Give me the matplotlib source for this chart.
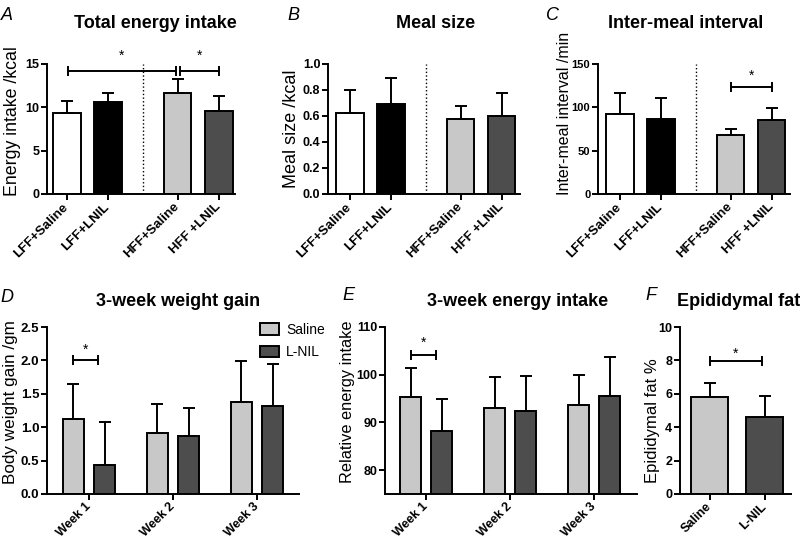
import matplotlib
matplotlib.use("Agg")
import matplotlib.pyplot as plt
import numpy as np
from matplotlib.patches import Patch

plt.rcParams['font.family'] = ['Liberation Sans', 'DejaVu Sans']

# ---------------- data ----------------
groups_top = ["LFF+Saline", "LFF+LNIL", "HFF+Saline", "HFF +LNIL"]
energy_mean = [9.4, 10.6, 11.6, 9.6]
energy_err = [1.3, 1.0, 1.65, 1.65]
meal_mean = [0.62, 0.69, 0.58, 0.60]
meal_err = [0.18, 0.20, 0.10, 0.18]
imi_mean = [92, 87, 68, 85]
imi_err = [24, 24, 7, 14]

weeks = ["Week 1", "Week 2", "Week 3"]
wg_saline = [1.13, 0.92, 1.37]
wg_saline_err = [0.51, 0.42, 0.62]
wg_lnil = [0.43, 0.87, 1.32]
wg_lnil_err = [0.65, 0.42, 0.62]
ei_saline = [95.4, 93.0, 93.6]
ei_saline_err = [6.0, 6.5, 6.3]
ei_lnil = [88.2, 92.4, 95.5]
ei_lnil_err = [6.7, 7.4, 8.2]
fat_labels = ["Saline", "L-NIL"]
fat_mean = [5.82, 4.64]
fat_err = [0.80, 1.22]

W, H = 800, 538
fig = plt.figure(figsize=(8, 5.38), dpi=100)

def add_ax(l, r, t, b):
    return fig.add_axes([l / W, 1 - b / H, (r - l) / W, (b - t) / H])

top_colors = ["white", "black", "#c8c8c8", "#4d4d4d"]
LW = 1.4

def style(ax, ytick_size):
    for s in ["top", "right"]:
        ax.spines[s].set_visible(False)
    for s in ["left", "bottom"]:
        ax.spines[s].set_linewidth(LW)
    ax.tick_params(axis="both", width=LW, length=4, direction="out")
    ax.tick_params(axis="y", pad=1.5)
    for lab in ax.get_yticklabels():
        lab.set_fontweight("bold")
        lab.set_fontsize(ytick_size)

def bars(ax, x, vals, errs, colors, width):
    ax.bar(x, vals, width=width, color=colors, edgecolor="black", linewidth=LW, zorder=2)
    ax.errorbar(x, vals, yerr=[np.zeros(len(vals)), errs], fmt="none", ecolor="black",
                elinewidth=LW, capsize=4.5, capthick=LW, zorder=3)

def bracket(ax, x1, x2, y, ys):
    ax.plot([x1, x2], [y, y], color="black", lw=LW, zorder=4, clip_on=False)
    ax.plot([x1, x2], [y, y], ls="none", marker="|", ms=7, mew=LW, color="black", clip_on=False)
    ax.text((x1 + x2) / 2, ys, "*", ha="center", va="center", fontsize=10, clip_on=False)

def set_xlabels(ax, pos, labels, size):
    ax.set_xticks(pos)
    ax.set_xticklabels(labels, rotation=45, ha="right", va="center", rotation_mode="anchor",
                       fontweight="bold", fontsize=size)
    ax.tick_params(axis="x", pad=4)

def ylabel(ax, text, xpx, ycpx, size):
    ax.set_ylabel(text, fontsize=size)
    ax.yaxis.set_label_coords(xpx / W, 1 - ycpx / H, transform=fig.transFigure)

def title(x, y, text, ha="center"):
    fig.text(x / W, 1 - y / H, text, ha=ha, va="center", fontsize=13, fontweight="bold")

def letter(x, y, text):
    fig.text(x / W, 1 - y / H, text, ha="left", va="center", fontsize=13, style="italic")

xt = np.array([0, 1, 2.7, 3.7])
bw = 0.68

# ---- A ----
axA = add_ax(47, 235, 64, 194)
bars(axA, xt, energy_mean, energy_err, top_colors, bw)
axA.axvline(1.87, color="black", ls=":", lw=1.0)
axA.set_xlim(-0.48, 4.1)
axA.set_ylim(0, 15)
axA.set_yticks([0, 5, 10, 15])
style(axA, 9)
set_xlabels(axA, xt, groups_top, 9.5)
bracket(axA, 0.02, 2.66, 14.2, 15.9)
bracket(axA, 2.76, 3.72, 14.2, 15.9)
ylabel(axA, "Energy intake /kcal", 21, 121, 12.8)
title(155, 24, "Total energy intake")
letter(1, 15, "A")

# ---- B ----
axB = add_ax(328, 520, 64, 194)
bars(axB, xt, meal_mean, meal_err, top_colors, bw)
axB.axvline(1.85, color="black", ls=":", lw=1.0)
axB.set_xlim(-0.53, 4.15)
axB.set_ylim(0, 1.0)
axB.set_yticks([0, 0.2, 0.4, 0.6, 0.8, 1.0])
axB.set_yticklabels(["0.0", "0.2", "0.4", "0.6", "0.8", "1.0"])
style(axB, 9)
set_xlabels(axB, xt, groups_top, 9.5)
ylabel(axB, "Meal size /kcal", 300, 129, 13)
title(436, 24, "Meal size")
letter(287, 15, "B")

# ---- C ----
axC = add_ax(598, 790, 64, 194)
bars(axC, xt, imi_mean, imi_err, top_colors, bw)
axC.axvline(1.85, color="black", ls=":", lw=1.0)
axC.set_xlim(-0.53, 4.15)
axC.set_ylim(0, 150)
axC.set_yticks([0, 50, 100, 150])
style(axC, 8)
set_xlabels(axC, xt, groups_top, 9.5)
bracket(axC, 2.7, 3.72, 124, 136)
ylabel(axC, "Inter-meal interval /min", 572, 113, 11.5)
title(686, 24, "Inter-meal interval")
letter(546, 15, "C")

# ---- D ----
gx = np.arange(3)
off = 0.185
gw = 0.25
axD = add_ax(47, 299, 327, 494)
bars(axD, gx - off, wg_saline, wg_saline_err, ["#c8c8c8"] * 3, gw)
bars(axD, gx + off, wg_lnil, wg_lnil_err, ["#4d4d4d"] * 3, gw)
axD.set_xlim(-0.5, 2.5)
axD.set_ylim(0, 2.5)
axD.set_yticks([0, 0.5, 1.0, 1.5, 2.0, 2.5])
axD.set_yticklabels(["0.0", "0.5", "1.0", "1.5", "2.0", "2.5"])
style(axD, 9.5)
set_xlabels(axD, gx, weeks, 9)
bracket(axD, -off, 0.11, 2.0, 2.16)
ylabel(axD, "Body weight gain /gm", 18, 402, 12.3)
title(178, 302, "3-week weight gain")
letter(0, 297, "D")
handles = [Patch(facecolor="#c8c8c8", edgecolor="black", linewidth=LW, label="Saline"),
           Patch(facecolor="#4d4d4d", edgecolor="black", linewidth=LW, label="L-NIL")]
fig.legend(handles=handles, loc="upper left", bbox_to_anchor=(257 / W, 1 - 320 / H),
           frameon=False, fontsize=10, handlelength=1.4, handleheight=0.85,
           labelspacing=0.6, handletextpad=0.5, borderaxespad=0, borderpad=0.2)

# ---- E ----
axE = add_ax(385, 637, 327, 494)
bars(axE, gx - off, ei_saline, ei_saline_err, ["#c8c8c8"] * 3, gw)
bars(axE, gx + off, ei_lnil, ei_lnil_err, ["#4d4d4d"] * 3, gw)
axE.set_xlim(-0.49, 2.51)
axE.set_ylim(75, 110)
axE.set_yticks([80, 90, 100, 110])
style(axE, 9)
set_xlabels(axE, gx, weeks, 9)
bracket(axE, -off, 0.12, 104.1, 106.6)
ylabel(axE, "Relative energy intake", 355, 402, 11.8)
title(518, 302, "3-week energy intake")
letter(342, 295, "E")

# ---- F ----
fx = np.array([0, 1])
axF = add_ax(680, 791, 327, 494)
bars(axF, fx, fat_mean, fat_err, ["#c8c8c8", "#4d4d4d"], 0.67)
axF.set_xlim(-0.536, 1.48)
axF.set_ylim(0, 10)
axF.set_yticks([0, 2, 4, 6, 8, 10])
style(axF, 9)
set_xlabels(axF, fx, fat_labels, 9)
bracket(axF, 0, 0.95, 7.97, 8.4)
ylabel(axF, "Epididymal fat %", 660, 421, 12)
title(677, 302, "Epididymal fat", ha="left")
letter(645, 295, "F")

fig.savefig("out.png", dpi=100)
